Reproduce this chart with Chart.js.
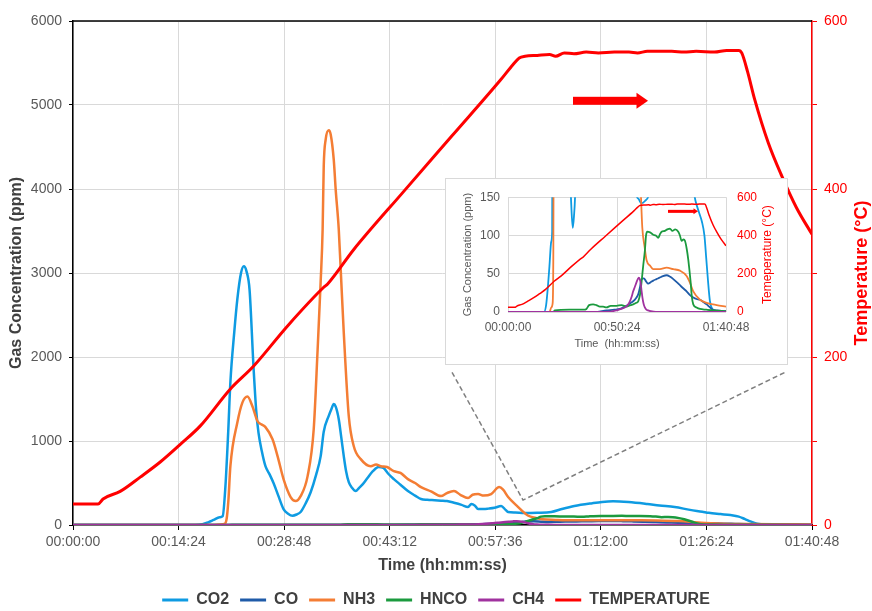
<!DOCTYPE html>
<html>
<head>
<meta charset="utf-8">
<title>Gas concentration and temperature</title>
<script src="https://cdn.jsdelivr.net/npm/chart.js@4.4.1/dist/chart.umd.min.js"></script>
<style>
  html, body { margin: 0; padding: 0; background: #fff; overflow: hidden; }
  #wrap { position: relative; width: 872px; height: 611px; }
  #main { position: absolute; left: 0; top: 0; }
  #insetBox { position: absolute; left: 445px; top: 178px; width: 341px; height: 185px;
              border: 1px solid #d9d9d9; background: #fff; }
  #inset { display: block; }
</style>
</head>
<body>
<div id="wrap">
  <canvas id="main" width="872" height="611"></canvas>
  <div id="insetBox"><canvas id="inset" width="341" height="185"></canvas></div>
</div>
<script>
// Time in seconds, gas in ppm, temperature in °C
const co2 = [[0,0],[1000,0],[1060,10],[1110,35],[1150,60],[1200,92],[1225,105],[1247,450],[1270,1100],[1288,1700],[1320,2300],[1345,2690],[1375,3000],[1398,3080],[1420,3020],[1445,2800],[1477,1890],[1500,1350],[1518,1100],[1545,880],[1575,700],[1610,600],[1641,500],[1680,350],[1723,190],[1760,135],[1797,110],[1830,125],[1863,155],[1905,260],[1945,390],[1990,600],[2027,820],[2052,1110],[2093,1300],[2115,1380],[2134,1440],[2150,1410],[2175,1260],[2195,1050],[2216,820],[2235,640],[2257,510],[2285,440],[2314,404],[2340,440],[2372,487],[2410,560],[2454,640],[2500,690],[2540,680],[2580,610],[2626,546],[2680,480],[2741,404],[2800,350],[2848,309],[2900,300],[2960,295],[3012,290],[3060,285],[3118,265],[3180,240],[3233,214],[3260,250],[3290,230],[3315,190],[3360,190],[3400,195],[3450,205],[3504,226],[3540,180],[3561,154],[3620,148],[3693,142],[3800,145],[3914,155],[4000,190],[4103,226],[4250,260],[4330,275],[4420,282],[4546,273],[4700,250],[4800,232],[4924,214],[5050,180],[5150,158],[5203,145],[5300,130],[5380,118],[5449,100],[5500,70],[5550,40],[5600,15],[5680,3],[5800,0],[6048,0]];
const co = [[0,0],[2400,0],[2732,2],[2950,3],[3103,4],[3200,6],[3288,8],[3380,11],[3473,14],[3550,18],[3612,23],[3660,32],[3705,43],[3770,44],[3830,40],[3890,37],[3960,39],[4029,41],[4120,43],[4214,45],[4300,47],[4400,48],[4500,46],[4585,43],[4680,39],[4770,35],[4860,31],[4955,27],[5050,22],[5140,19],[5230,17],[5326,16],[5420,13],[5511,10],[5580,7],[5650,4],[5800,2],[6048,1]];
const nh3 = [[0,0],[1150,0],[1200,6],[1240,12],[1258,80],[1272,300],[1288,700],[1345,1220],[1387,1460],[1428,1530],[1469,1410],[1510,1235],[1540,1200],[1575,1165],[1633,1020],[1674,820],[1723,546],[1781,333],[1822,285],[1863,344],[1920,582],[1970,1140],[2002,2090],[2027,2900],[2043,3520],[2052,4270],[2068,4590],[2093,4700],[2109,4650],[2134,4350],[2150,3990],[2175,3520],[2191,3040],[2216,2290],[2257,1295],[2298,938],[2355,784],[2437,700],[2480,720],[2519,700],[2570,690],[2626,641],[2680,620],[2741,546],[2800,500],[2848,451],[2930,400],[3012,344],[3060,380],[3118,404],[3170,360],[3233,321],[3270,360],[3315,368],[3360,350],[3422,368],[3488,451],[3520,420],[3561,333],[3643,214],[3690,150],[3726,110],[3790,85],[3843,68],[3950,60],[4029,56],[4214,56],[4400,58],[4585,56],[4770,54],[4955,47],[5050,38],[5140,27],[5326,16],[5511,12],[5789,9],[6048,7]];
const hnco = [[0,0],[1250,0],[1300,2],[1700,3],[2100,3],[2176,4],[2250,9],[2361,10],[2450,9],[2547,7],[2640,7],[2732,6],[2850,8],[3010,8],[3150,9],[3288,7],[3400,9],[3473,10],[3560,12],[3612,14],[3660,22],[3705,39],[3750,60],[3797,80],[3830,100],[3862,105],[3940,104],[4029,101],[4100,100],[4168,97],[4220,102],[4260,105],[4350,106],[4420,108],[4492,109],[4560,106],[4640,108],[4724,105],[4770,100],[4816,93],[4870,95],[4909,93],[4960,82],[5002,68],[5067,39],[5100,20],[5140,10],[5230,6],[5326,4],[5500,3],[5697,2],[6048,1]];
const ch4 = [[0,0],[2700,0],[3010,2],[3130,4],[3242,6],[3320,9],[3381,14],[3430,20],[3473,27],[3520,33],[3566,39],[3600,43],[3631,45],[3655,43],[3677,39],[3705,28],[3732,18],[3765,10],[3797,6],[3840,3],[3890,2],[3960,1],[4100,0],[6048,0]];
const temperature = [[0,25],[205,25],[246,31],[386,40],[550,57],[714,75],[878,96],[1042,118],[1288,162],[1477,189],[1756,237],[2052,283],[2084,287],[2298,328],[2700,396],[3100,463],[3500,530],[3600,548],[3652,556],[3700,558],[3800,559],[3900,560],[3950,558],[4021,562],[4100,561],[4200,563],[4300,562],[4431,563],[4550,563],[4620,562],[4700,564],[4900,564],[5000,563],[5100,564],[5250,563],[5350,565],[5449,565],[5473,562],[5520,540],[5580,506],[5690,455],[5802,415],[5920,378],[6048,346]];
// dashed guide from the inset down to the zoomed region (time s, ppm)
const zoomGuide = [[3102,1818],[3683,297],[5827,1818]];

const seriesNames = ['CO2', 'CO', 'NH3', 'HNCO', 'CH4', 'TEMPERATURE'];
const gasSeries = [co2, co, nh3, hnco, ch4];

// x axis ticks (seconds)
const timeMax = 6048;
const mainTimeStep = 864;
const insetTimeStep = 3024;

const colors = ['#0E9BE2', '#1F5BA8', '#F47D34', '#1B9A3E', '#A0329F', '#FF0000'];
const FONT = "'Liberation Sans', Arial, sans-serif";
Chart.defaults.font.family = FONT;

function hms(s) {
  const h = Math.floor(s / 3600), m = Math.floor((s % 3600) / 60), sec = Math.round(s % 60);
  return [h, m, sec].map(v => String(v).padStart(2, '0')).join(':');
}
const toXY = arr => arr.map(([x, y]) => ({ x, y }));

// red arrow, top border and bottom-to-top right title
const decor = {
  id: 'decor',
  afterDatasetsDraw(chart, args, opts) {
    const { ctx, chartArea: a, scales } = chart;
    ctx.save();
    if (opts.frameTop) {
      ctx.strokeStyle = '#000';
      ctx.lineWidth = 1.5;
      ctx.beginPath();
      ctx.moveTo(a.left, a.top);
      ctx.lineTo(a.right, a.top);
      ctx.stroke();
    }
    if (opts.arrow) {
      const ar = opts.arrow;
      const x0 = scales.x.getPixelForValue(ar.from);
      const x1 = scales.x.getPixelForValue(ar.to);
      const y = scales.yT.getPixelForValue(ar.temp);
      ctx.fillStyle = '#FF0000';
      ctx.fillRect(x0, y - ar.thick / 2, x1 - x0 - ar.head, ar.thick);
      ctx.beginPath();
      ctx.moveTo(x1 - ar.head - 0.5, y - ar.headW / 2);
      ctx.lineTo(x1, y);
      ctx.lineTo(x1 - ar.head - 0.5, y + ar.headW / 2);
      ctx.closePath();
      ctx.fill();
    }
    if (opts.rightTitle) {
      const t = opts.rightTitle;
      ctx.translate(t.x, (a.top + a.bottom) / 2);
      ctx.rotate(-Math.PI / 2);
      ctx.font = t.font;
      ctx.fillStyle = t.color;
      ctx.textAlign = 'center';
      ctx.textBaseline = 'middle';
      ctx.fillText(t.text, 0, 0);
    }
    ctx.restore();
  }
};

function lineSets(width, tempWidth) {
  const sets = gasSeries.map((d, i) => ({
    label: seriesNames[i], data: toXY(d), yAxisID: 'y',
    borderColor: colors[i], backgroundColor: colors[i], borderWidth: width,
    pointRadius: 0, cubicInterpolationMode: 'monotone', order: 6 - i
  }));
  sets.push({
    label: seriesNames[5], data: toXY(temperature), yAxisID: 'yT',
    borderColor: colors[5], backgroundColor: colors[5], borderWidth: tempWidth,
    pointRadius: 0, cubicInterpolationMode: 'monotone', order: 0
  });
  return sets;
}

// ---------- main chart ----------
const mainSets = lineSets(2.5, 3);
mainSets.push({
  label: '', data: toXY(zoomGuide), yAxisID: 'y',
  borderColor: '#7f7f7f', borderWidth: 1.5, borderDash: [5, 3],
  pointRadius: 0, tension: 0, order: 7
});

new Chart(document.getElementById('main'), {
  type: 'line',
  data: { datasets: mainSets },
  plugins: [decor],
  options: {
    responsive: false,
    animation: false,
    layout: { padding: { top: 21, left: 0, right: 0, bottom: -7 } },
    plugins: {
      tooltip: { enabled: false },
      legend: {
        position: 'bottom',
        labels: {
          boxWidth: 26, boxHeight: 3, padding: 11, color: '#404040',
          font: { size: 16, weight: 'bold' },
          generateLabels: chart => Chart.defaults.plugins.legend.labels.generateLabels(chart)
            .map(l => ({ ...l, lineWidth: 0, lineDash: [] })),
          filter: item => item.text !== '',
          sort: (a, b) => a.datasetIndex - b.datasetIndex
        }
      },
      decor: {
        frameTop: true,
        arrow: { from: 4092, to: 4706, temp: 505, thick: 8, head: 11, headW: 16 },
        rightTitle: { text: 'Temperature (°C)', x: 862, color: '#FF0000', font: 'bold 18px ' + FONT }
      }
    },
    scales: {
      x: {
        type: 'linear', min: 0, max: timeMax,
        afterFit: s => { s.height = 56; },
        ticks: { stepSize: mainTimeStep, callback: v => hms(v), color: '#595959', font: { size: 14 }, padding: 4, maxRotation: 0, autoSkip: false },
        grid: { color: '#d9d9d9', tickColor: '#000', tickLength: 5 },
        border: { color: '#000', width: 1.5 },
        title: { display: true, text: 'Time (hh:mm:ss)', color: '#404040', font: { size: 16, weight: 'bold' }, padding: { top: 0, bottom: 6 } }
      },
      y: {
        position: 'left', min: 0, max: 6000,
        afterFit: s => { s.width = 73; },
        ticks: { stepSize: 1000, callback: v => String(v), color: '#595959', font: { size: 14 }, padding: 7 },
        grid: { color: '#d9d9d9', tickColor: '#000', tickLength: 4 },
        border: { color: '#000', width: 1.5 },
        title: { display: true, text: 'Gas Concentration (ppm)', color: '#404040', font: { size: 16, weight: 'bold' }, padding: { top: 7, bottom: 0 } }
      },
      yT: {
        position: 'right', min: 0, max: 600,
        afterFit: s => { s.width = 60; },
        ticks: { stepSize: 100, callback: v => (v % 200 === 0 ? String(v) : ''), color: '#FF0000', font: { size: 14 }, padding: 7 },
        grid: { drawOnChartArea: false, tickColor: '#FF0000', tickLength: 5 },
        border: { color: '#FF0000', width: 1.5 }
      }
    }
  }
});

// ---------- inset (zoom on 0-150 ppm) ----------
new Chart(document.getElementById('inset'), {
  type: 'line',
  data: { datasets: lineSets(1.8, 1.5) },
  plugins: [decor],
  options: {
    responsive: false,
    animation: false,
    layout: { padding: { top: 12, left: 0, right: 0, bottom: 0 } },
    plugins: {
      tooltip: { enabled: false },
      legend: { display: false },
      decor: {
        arrow: { from: 4439, to: 5271, temp: 526, thick: 3, head: 4, headW: 6 },
        rightTitle: { text: 'Temeperature (°C)', x: 322, color: '#FF0000', font: '12px ' + FONT }
      }
    },
    scales: {
      x: {
        type: 'linear', min: 0, max: timeMax,
        afterFit: s => { s.height = 52; },
        ticks: { stepSize: insetTimeStep, callback: v => hms(v), color: '#595959', font: { size: 12 }, padding: 8, maxRotation: 0, autoSkip: false },
        grid: { color: '#d9d9d9', drawTicks: false },
        border: { display: false },
        title: { display: true, text: 'Time  (hh:mm:ss)', color: '#595959', font: { size: 11 }, padding: { top: 0, bottom: 13 } }
      },
      y: {
        position: 'left', min: 0, max: 150,
        afterFit: s => { s.width = 62; },
        ticks: { stepSize: 50, color: '#595959', font: { size: 12 }, padding: 8 },
        grid: { color: '#d9d9d9', drawTicks: false },
        border: { display: false },
        title: { display: true, text: 'Gas Concentration (ppm)', color: '#595959', font: { size: 11 }, padding: { top: 15, bottom: 0 } }
      },
      yT: {
        position: 'right', min: 0, max: 600,
        afterFit: s => { s.width = 61; },
        ticks: { stepSize: 200, color: '#FF0000', font: { size: 12 }, padding: 11 },
        grid: { drawOnChartArea: false, drawTicks: false },
        border: { display: false }
      }
    }
  }
});
</script>
</body>
</html>
